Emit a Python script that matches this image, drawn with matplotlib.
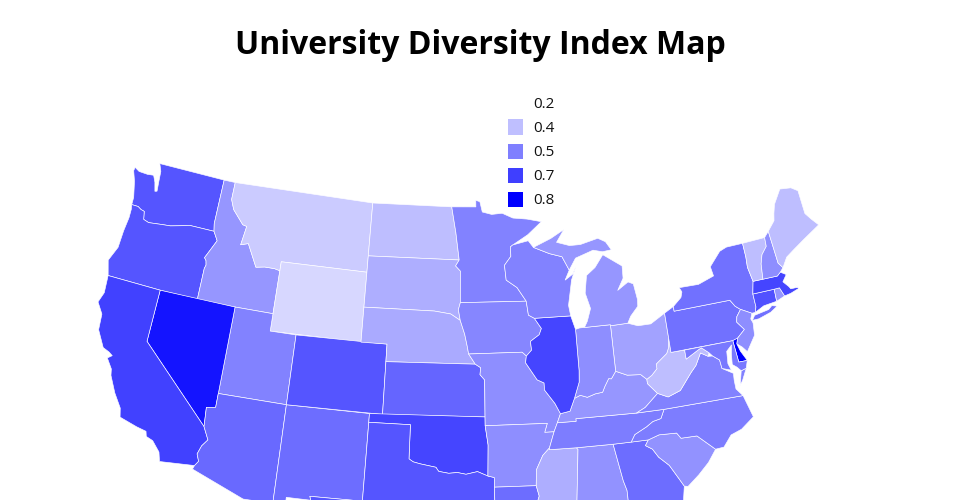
import numpy as np
import matplotlib
matplotlib.use('Agg')
import matplotlib.pyplot as plt
from matplotlib.colors import LinearSegmentedColormap, Normalize
from matplotlib.patches import Polygon, Rectangle

# outlines are lon/lat, everything goes through the albers function below
WA = [(-122.76,49),(-117.03,49),(-117.04,46.42),(-116.92,45.99),(-118.98,46),(-119.3,45.93),(-120.5,45.7),(-121.2,45.65),(-122.3,45.55),(-122.76,45.65),(-122.9,46.1),(-123.2,46.15),(-123.5,46.27),(-124.05,46.27),(-124.07,46.7),(-124.4,47.6),(-124.73,48.17),(-124.7,48.38),(-124.27,48.22),(-123.5,48.2),(-122.99,48.25),(-122.72,47.88),(-122.51,47.38),(-122.34,47.42),(-122.42,48.0),(-122.49,48.58)]
OR = [(-124.05,46.27),(-123.5,46.27),(-123.2,46.15),(-122.9,46.1),(-122.76,45.65),(-122.3,45.55),(-121.2,45.65),(-120.5,45.7),(-119.3,45.93),(-118.98,46),(-116.92,45.99),(-116.5,45.5),(-116.85,44.95),(-117.2,44.4),(-117.03,44.25),(-116.95,44),(-117.03,43.8),(-117.03,42),(-120,42),(-124.2,42),(-124.55,42.84),(-124.1,43.7),(-124.06,44.7),(-123.95,45.5),(-123.97,46)]
ID = [(-117.03,49),(-116.05,49),(-116.05,48),(-115.7,47.45),(-114.7,46.7),(-114.35,46.65),(-114.55,45.55),(-113.95,45.7),(-113.45,45.05),(-113,44.45),(-112.3,44.55),(-111.5,44.55),(-111.05,44.48),(-111.05,42),(-114.04,42),(-117.03,42),(-117.03,43.8),(-116.95,44),(-117.03,44.25),(-117.2,44.4),(-116.85,44.95),(-116.5,45.5),(-116.92,45.99),(-117.04,46.42)]
MT = [(-116.05,49),(-104.05,49),(-104.05,45),(-111.05,45),(-111.05,44.48),(-111.5,44.55),(-112.3,44.55),(-113,44.45),(-113.45,45.05),(-113.95,45.7),(-114.55,45.55),(-114.35,46.65),(-114.7,46.7),(-115.7,47.45),(-116.05,48)]
WY = [(-111.05,45),(-104.05,45),(-104.05,41),(-111.05,41)]
UT = [(-114.04,42),(-111.05,42),(-111.05,41),(-109.05,41),(-109.05,37),(-114.05,37)]
NV = [(-120,42),(-114.04,42),(-114.05,36.2),(-114.7,36.1),(-114.6,35),(-120,39)]
CA = [(-124.2,42),(-120,42),(-120,39),(-114.6,35),(-114.15,34.3),(-114.5,33.9),(-114.7,33.4),(-114.5,33),(-114.72,32.72),(-117.12,32.53),(-117.3,33.05),(-117.9,33.6),(-118.4,33.75),(-118.5,34.03),(-119.2,34.15),(-120.5,34.45),(-120.65,34.95),(-121.3,35.7),(-121.9,36.6),(-122,36.96),(-122.5,37.5),(-122.2,37.7),(-122.5,37.85),(-123,38),(-123.7,38.9),(-123.8,39.8),(-124.35,40.4),(-124.1,41)]
AZ = [(-114.05,37),(-109.05,37),(-109.05,31.33),(-111.07,31.33),(-114.81,32.5),(-114.72,32.72),(-114.5,33),(-114.7,33.4),(-114.5,33.9),(-114.15,34.3),(-114.6,35),(-114.7,36.1),(-114.05,36.2)]
NM = [(-109.05,37),(-103,37),(-103.04,32),(-106.62,32),(-106.53,31.78),(-108.2,31.78),(-108.2,31.33),(-109.05,31.33)]
CO = [(-109.05,41),(-102.05,41),(-102.05,37),(-109.05,37)]
ND = [(-104.05,49),(-97.23,49),(-96.85,47.5),(-96.56,45.94),(-104.05,45.94)]
SD = [(-104.05,45.94),(-96.56,45.94),(-96.85,45.6),(-96.45,45.3),(-96.45,43.5),(-96.6,43.1),(-96.45,42.49),(-97.2,42.85),(-98.5,43),(-104.05,43)]
NE = [(-104.05,43),(-98.5,43),(-97.2,42.85),(-96.45,42.49),(-96.1,41.7),(-95.9,41),(-95.8,40.58),(-95.3,40),(-102.05,40),(-102.05,41),(-104.05,41)]
KS = [(-102.05,40),(-95.3,40),(-94.9,39.8),(-94.95,39.4),(-94.61,39.1),(-94.62,37),(-102.05,37)]
OK = [(-103,37),(-94.62,37),(-94.62,36.5),(-94.43,35.4),(-94.48,33.64),(-95.2,33.9),(-96,33.75),(-96.6,33.85),(-97.2,33.8),(-97.9,33.9),(-98.1,34.13),(-99.2,34.3),(-99.7,34.4),(-100,34.56),(-100,36.5),(-103,36.5)]
TX = [(-103,36.5),(-100,36.5),(-100,34.56),(-99.7,34.4),(-99.2,34.3),(-98.1,34.13),(-97.9,33.9),(-97.2,33.8),(-96.6,33.85),(-96,33.75),(-95.2,33.9),(-94.48,33.64),(-94.04,33.55),(-94.04,32),(-93.55,31.2),(-93.7,30.3),(-93.85,29.7),(-94.7,29.35),(-95.3,28.9),(-96.4,28.35),(-97.2,27.7),(-97.4,26.9),(-97.15,25.96),(-97.5,25.85),(-99.1,26.4),(-99.5,27.5),(-100.3,28.3),(-100.8,29.25),(-101.4,29.77),(-102.4,29.77),(-103.15,28.97),(-104.5,29.65),(-104.9,30.6),(-106.53,31.78),(-106.62,32),(-103.04,32)]
MN = [(-97.23,49),(-95.15,49),(-95.15,49.38),(-94.8,49.3),(-94.6,48.7),(-93.8,48.55),(-92.9,48.6),(-92,48.3),(-90.8,48.2),(-89.6,48),(-90.8,47.3),(-92.1,46.75),(-92.3,46.65),(-92.3,46.1),(-92.85,45.6),(-92.75,44.75),(-91.9,44.3),(-91.22,43.5),(-96.45,43.5),(-96.45,45.3),(-96.85,45.6),(-96.56,45.94),(-96.85,47.5)]
IA = [(-96.45,43.5),(-91.22,43.5),(-91.1,42.7),(-90.65,42.5),(-90.15,41.9),(-90.35,41.55),(-91.05,41.2),(-91,40.7),(-91.42,40.38),(-91.73,40.61),(-95.8,40.58),(-95.9,41),(-96.1,41.7),(-96.45,42.49),(-96.6,43.1)]
MO = [(-95.8,40.58),(-91.73,40.61),(-91.42,40.38),(-91.5,40),(-90.7,39),(-90.2,38.8),(-90.2,38.4),(-89.5,37.6),(-89.15,37),(-89.42,36.5),(-89.7,36),(-90.37,36),(-90.15,36.5),(-94.62,36.5),(-94.62,37),(-94.61,39.1),(-94.95,39.4),(-94.9,39.8),(-95.3,40)]
AR = [(-94.62,36.5),(-90.15,36.5),(-90.37,36),(-89.7,36),(-90.1,35.1),(-90.6,34.7),(-91.1,33.9),(-91.17,33),(-94.04,33),(-94.04,33.55),(-94.48,33.64),(-94.43,35.4)]
LA = [(-94.04,33),(-91.17,33),(-91,32.4),(-91.6,31),(-89.73,31),(-89.6,30.2),(-89.4,30),(-89.2,29.3),(-90.2,29.1),(-91.3,29.4),(-92.3,29.55),(-93.85,29.7),(-93.7,30.3),(-93.55,31.2),(-94.04,32)]
MS = [(-91.17,33),(-91.1,33.9),(-90.6,34.7),(-90.1,35.1),(-90.1,35),(-88.2,35),(-88.1,34.9),(-88.47,31.9),(-88.4,30.37),(-89.6,30.2),(-89.73,31),(-91.6,31),(-91,32.4)]
AL = [(-88.2,35),(-85.6,35),(-85.18,32.87),(-85,32.3),(-85,31),(-87.6,31),(-87.45,30.35),(-88.4,30.25),(-88.47,31.9),(-88.1,34.9)]
GA = [(-85.6,35),(-83.1,35),(-83.35,34.7),(-82.9,34.45),(-82.55,33.95),(-81.9,33.4),(-81.4,32.6),(-81.1,32.1),(-81.45,30.72),(-82.05,30.36),(-82.2,30.57),(-84.86,30.7),(-85,31),(-85,32.3),(-85.18,32.87)]
SC = [(-83.1,35),(-82.3,35.2),(-81.05,35.15),(-80.8,34.82),(-79.67,34.8),(-78.55,33.87),(-79.2,33.2),(-80,32.6),(-80.85,32.05),(-81.1,32.1),(-81.4,32.6),(-81.9,33.4),(-82.55,33.95),(-82.9,34.45),(-83.35,34.7)]
NC = [(-81.68,36.59),(-82,36.1),(-82.6,36),(-83.1,35.75),(-84,35.4),(-84.32,35),(-83.1,35),(-82.3,35.2),(-81.05,35.15),(-80.8,34.82),(-79.67,34.8),(-78.55,33.87),(-77.95,33.9),(-77.3,34.5),(-76.5,34.7),(-75.5,35.25),(-75.9,36.55)]
TN = [(-89.42,36.5),(-89.7,36),(-90.1,35.1),(-90.1,35),(-88.2,35),(-85.6,35),(-84.32,35),(-84,35.4),(-83.1,35.75),(-82.6,36),(-82,36.1),(-81.68,36.59),(-83.68,36.6),(-86.5,36.65),(-88.07,36.65),(-88.07,36.5)]
KY = [(-89.42,36.5),(-88.07,36.5),(-88.07,36.65),(-86.5,36.65),(-83.68,36.6),(-83,36.85),(-81.97,37.54),(-82.6,38.17),(-82.6,38.42),(-83,38.73),(-84,38.8),(-84.82,39.1),(-85.2,38.7),(-85.4,38.73),(-85.75,38.3),(-85.95,38),(-86.5,37.95),(-87.1,37.8),(-87.6,37.95),(-88.05,37.8),(-88.45,37.1),(-89.15,37)]
VA = [(-83.68,36.6),(-81.68,36.59),(-75.9,36.55),(-76.3,37),(-76.3,37.5),(-76.25,37.9),(-77,38.3),(-77.05,38.8),(-77.5,39.1),(-77.83,39.13),(-78.35,39.4),(-78.85,38.75),(-79.3,38.4),(-80.3,37.5),(-81.25,37.25),(-81.97,37.54),(-83,36.85)]
VA_SHORE = [(-75.95,37.15),(-75.65,37.95),(-75.25,38.03),(-75.7,37.4)]
WV = [(-82.6,38.17),(-81.97,37.54),(-81.25,37.25),(-80.3,37.5),(-79.3,38.4),(-78.85,38.75),(-78.35,39.4),(-77.83,39.13),(-77.72,39.32),(-78.2,39.67),(-78.4,39.62),(-79.48,39.2),(-79.48,39.72),(-80.52,39.72),(-80.52,40.64),(-80.65,40),(-80.85,39.7),(-81.75,39.2),(-81.75,38.93),(-82.2,38.6),(-82.6,38.42)]
OH = [(-80.52,40.64),(-80.52,41.98),(-81.7,41.5),(-82.7,41.5),(-83.45,41.72),(-84.8,41.7),(-84.82,39.1),(-84,38.8),(-83,38.73),(-82.6,38.42),(-82.2,38.6),(-81.75,38.93),(-81.75,39.2),(-80.85,39.7),(-80.65,40)]
IN = [(-84.8,41.76),(-87.2,41.76),(-87.52,41.7),(-87.53,39.35),(-87.6,38.7),(-88.05,37.8),(-87.6,37.95),(-87.1,37.8),(-86.5,37.95),(-85.95,38),(-85.75,38.3),(-85.4,38.73),(-85.2,38.7),(-84.82,39.1)]
IL = [(-87.52,41.7),(-87.8,42.49),(-90.65,42.5),(-90.15,41.9),(-90.35,41.55),(-91.05,41.2),(-91,40.7),(-91.42,40.38),(-91.5,40),(-90.7,39),(-90.2,38.8),(-90.2,38.4),(-89.5,37.6),(-89.15,37),(-88.45,37.1),(-88.05,37.8),(-87.6,38.7),(-87.53,39.35)]
WI = [(-92.1,46.75),(-90.8,46.95),(-90.4,46.55),(-89.1,46.13),(-88.1,45.9),(-87.6,45.1),(-88,44.55),(-87.35,44.85),(-87.05,45.25),(-87.5,44.5),(-87.55,44.3),(-87.9,43.1),(-87.8,42.49),(-90.65,42.5),(-91.1,42.7),(-91.22,43.5),(-91.9,44.3),(-92.75,44.75),(-92.85,45.6),(-92.3,46.1),(-92.3,46.65)]
MI = [(-84.8,41.7),(-83.45,41.72),(-83.15,42.1),(-82.5,42.6),(-82.45,43),(-82.6,43.9),(-83,44.05),(-83.9,43.65),(-83.35,44.3),(-83.3,45),(-84.75,45.78),(-85.5,45.1),(-86.25,44.7),(-86.5,43.7),(-86.2,42.8),(-86.55,42.1),(-86.82,41.76),(-84.8,41.76)]
MI_UPPER = [(-90.4,46.55),(-89.1,46.13),(-88.1,45.9),(-87.6,45.1),(-87,45.75),(-85.5,46.1),(-84.75,45.95),(-84,46),(-84.4,46.5),(-85,46.75),(-86.5,46.5),(-87.4,46.5),(-88.45,46.75),(-87.75,47.45),(-88.9,47)]
PA = [(-80.52,41.98),(-79.76,42.27),(-79.76,42),(-75.35,42),(-75.05,41.6),(-74.7,41.36),(-75.1,41),(-75.2,40.7),(-74.75,40.2),(-75.4,39.8),(-75.79,39.72),(-80.52,39.72)]
NY = [(-79.76,42.27),(-79.05,42.7),(-78.9,43),(-79.05,43.27),(-77.5,43.25),(-76.2,43.55),(-76.3,44.1),(-75.3,44.85),(-74.7,45),(-73.35,45),(-73.35,44.2),(-73.42,43.6),(-73.25,42.75),(-73.5,42.05),(-73.5,41.3),(-73.65,41),(-73.92,41),(-74.7,41.36),(-75.05,41.6),(-75.35,42),(-79.76,42)]
NY_LI = [(-74,40.6),(-73.75,40.85),(-72.6,40.98),(-72.3,41.15),(-71.9,41.05),(-72.5,40.8),(-73.5,40.6)]
NJ = [(-74.7,41.36),(-73.92,41),(-74.1,40.7),(-74,40.45),(-74.1,39.75),(-74.9,38.93),(-75.2,39.25),(-75.55,39.5),(-75.4,39.8),(-74.75,40.2),(-75.2,40.7),(-75.1,41)]
DE = [(-75.79,39.72),(-75.4,39.8),(-75.55,39.5),(-75.4,39.05),(-75.05,38.45),(-75.69,38.46)]
MD = [(-79.48,39.72),(-75.79,39.72),(-75.69,38.46),(-75.05,38.45),(-75.25,38.03),(-75.65,37.95),(-75.9,38.2),(-76.2,38.4),(-76.1,39),(-75.95,39.5),(-76.4,39.2),(-76.5,38.5),(-76.35,38.1),(-77,38.3),(-77.05,38.8),(-77.5,39.1),(-77.72,39.32),(-78.2,39.67),(-78.4,39.62),(-79.48,39.2)]
CT = [(-73.5,42.05),(-71.8,42.02),(-71.85,41.32),(-72.9,41.25),(-73.65,41),(-73.5,41.3)]
RI = [(-71.8,42.02),(-71.38,42.02),(-71.15,41.5),(-71.85,41.32)]
MA = [(-73.25,42.75),(-71.3,42.7),(-71,42.87),(-70.6,42.65),(-71,42.3),(-70.65,41.95),(-70.55,41.8),(-70.05,41.78),(-70.25,42.07),(-69.95,41.7),(-70.65,41.55),(-71.15,41.5),(-71.38,42.02),(-71.8,42.02),(-73.5,42.05)]
VT = [(-73.35,45),(-71.5,45.01),(-71.55,44.5),(-72.05,44.1),(-72.3,43.6),(-72.46,42.73),(-73.25,42.75),(-73.42,43.6),(-73.35,44.2)]
NH = [(-71.5,45.01),(-71.08,45.3),(-70.98,43.4),(-70.7,43.08),(-71,42.87),(-71.3,42.7),(-72.46,42.73),(-72.3,43.6),(-72.05,44.1),(-71.55,44.5)]
ME = [(-71.08,45.3),(-70.4,45.8),(-70.25,46.2),(-70,46.7),(-69.22,47.46),(-68.3,47.35),(-67.8,47.07),(-67.8,45.7),(-67.45,45.3),(-67,44.85),(-68.5,44.3),(-69.5,43.9),(-70.2,43.6),(-70.7,43.08),(-70.98,43.4)]

state_outlines = [
    [WA], [OR], [ID], [MT], [WY], [UT], [NV], [CA], [AZ], [NM], [CO], [ND], [SD], [NE], [KS], [OK], [TX],
    [MN], [IA], [MO], [AR], [LA], [MS], [AL], [GA], [SC], [NC], [TN], [KY], [VA, VA_SHORE], [WV], [OH], [IN],
    [IL], [WI], [MI, MI_UPPER], [PA], [NY, NY_LI], [NJ], [DE], [MD], [CT], [RI], [MA], [VT], [NH], [ME],
]
diversity = [
    0.61, 0.61, 0.45, 0.32, 0.29, 0.50, 0.77, 0.66, 0.56, 0.55, 0.61, 0.35, 0.39, 0.40, 0.57, 0.65, 0.61,
    0.50, 0.49, 0.47, 0.47, 0.55, 0.39, 0.46, 0.55, 0.46, 0.51, 0.51, 0.45, 0.50, 0.35, 0.42, 0.47,
    0.65, 0.50, 0.45, 0.54, 0.54, 0.47, 0.82, 0.52, 0.62, 0.45, 0.65, 0.35, 0.47, 0.35,
]
legend_labels = ['0.2', '0.4', '0.5', '0.7', '0.8']
legend_shades = [0.0, 0.25, 0.5, 0.75, 1.0]


def albers(points):
    # conic equal area, same parallels as the us maps
    n = (np.sin(np.radians(29.5)) + np.sin(np.radians(45.5))) / 2
    c = np.cos(np.radians(29.5)) ** 2 + 2 * n * np.sin(np.radians(29.5))
    pts = np.array(points)
    rho = np.sqrt(c - 2 * n * np.sin(np.radians(pts[:, 1]))) / n
    theta = np.radians(n * (pts[:, 0] + 96))
    return np.column_stack([rho * np.sin(theta), -rho * np.cos(theta)])


cmap = LinearSegmentedColormap.from_list('wb', ['#ffffff', '#0000ff'])
norm = Normalize(0.19, 0.82)

fig = plt.figure(figsize=(9.6, 5), dpi=100)
ax = fig.add_axes([0, 0, 1, 1])
for parts, value in zip(state_outlines, diversity):
    for part in parts:
        ax.add_patch(Polygon(albers(part), closed=True, facecolor=cmap(norm(value)),
                             edgecolor='white', linewidth=0.45, joinstyle='round'))
ax.set_xlim(-0.466, 0.494)
ax.set_ylim(-1.395, -0.895)
ax.axis('off')

fig.text(0.5, 0.908, 'University Diversity Index Map', family='Open Sans', weight='bold',
         fontsize=23, ha='center', va='center', color='black')

for i, (label, shade) in enumerate(zip(legend_labels, legend_shades)):
    y = (500 - 103 - 24 * i) / 500
    fig.add_artist(Rectangle((508 / 960, y - 7.5 / 500), 15 / 960, 15 / 500, transform=fig.transFigure,
                             facecolor=cmap(shade), edgecolor='none'))
    fig.text(533 / 960, y - 1.5 / 500, label, family='Open Sans', fontsize=11, va='center', ha='left', color='#111111')

fig.savefig('out.png', dpi=100)
